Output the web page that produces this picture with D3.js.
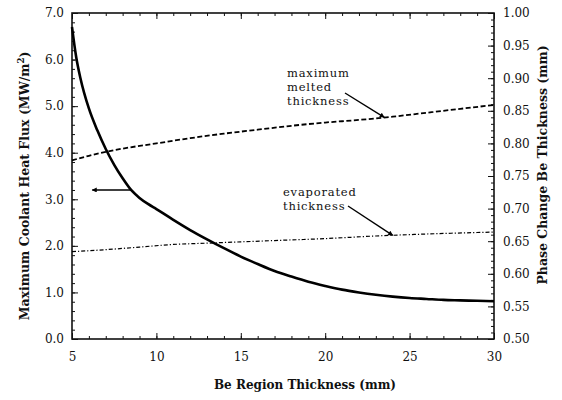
<!DOCTYPE html>
<html>
<head>
<meta charset="utf-8">
<script src="https://cdn.jsdelivr.net/npm/d3@7"></script>
<style>
  body { margin: 0; background: #fff; }
  svg text { font-family: "DejaVu Serif", serif; fill: #111; }
</style>
</head>
<body>
<div id="plot"></div>
<script>
// values
const fluxX = [5, 5.25, 5.5, 6, 6.5, 7, 7.5, 8, 8.5, 9, 9.5, 10, 11, 12, 13, 14, 15, 16, 17, 18, 19, 20, 21, 22, 23, 24, 25, 26, 27, 28, 29, 30];
const fluxY = [6.70, 6.05, 5.60, 4.95, 4.48, 4.08, 3.74, 3.45, 3.20, 3.03, 2.90, 2.79, 2.56, 2.34, 2.14, 1.95, 1.77, 1.61, 1.46, 1.34, 1.23, 1.14, 1.06, 1.00, 0.95, 0.91, 0.88, 0.86, 0.84, 0.83, 0.82, 0.81];

const meltX = [5, 6, 7, 8, 10, 12, 14, 16, 18, 20, 22, 24, 26, 28, 30];
const meltY = [0.774, 0.781, 0.787, 0.792, 0.800, 0.808, 0.815, 0.821, 0.827, 0.832, 0.836, 0.841, 0.847, 0.853, 0.859];

const evapX = [5, 7, 9, 11, 13, 15, 17, 20, 23, 26, 30];
const evapY = [0.634, 0.637, 0.641, 0.645, 0.647, 0.649, 0.651, 0.654, 0.658, 0.661, 0.664];

const xTicks = [5, 10, 15, 20, 25, 30];
const leftTicks = [0, 1, 2, 3, 4, 5, 6, 7];
const rightTicks = [0.50, 0.55, 0.60, 0.65, 0.70, 0.75, 0.80, 0.85, 0.90, 0.95, 1.00];

const width = 562, height = 400;
const margin = {top: 13, right: 68, bottom: 61, left: 72};
const serif = "'DejaVu Serif', serif";

const svg = d3.select("#plot").append("svg")
  .attr("width", width)
  .attr("height", height);

const x = d3.scaleLinear([5, 30], [margin.left, width - margin.right]);
const yL = d3.scaleLinear([0, 7], [height - margin.bottom, margin.top]);
const yR = d3.scaleLinear([0.5, 1.0], [height - margin.bottom, margin.top]);

// minor ticks first, no labels
const noLabel = g => g.selectAll("text").remove();
const styleAxis = g => {
  g.select(".domain").remove();
  g.selectAll("line").attr("stroke", "#111").attr("stroke-width", 1);
};

svg.append("g").attr("transform", `translate(0,${height - margin.bottom})`)
  .call(d3.axisBottom(x).tickValues(d3.range(5, 31, 1)).tickSize(-3)).call(noLabel).call(styleAxis);
svg.append("g").attr("transform", `translate(0,${margin.top})`)
  .call(d3.axisTop(x).tickValues(d3.range(5, 31, 1)).tickSize(-3)).call(noLabel).call(styleAxis);
svg.append("g").attr("transform", `translate(0,${margin.top})`)
  .call(d3.axisTop(x).tickValues(xTicks).tickSize(-6)).call(noLabel).call(styleAxis);
svg.append("g").attr("transform", `translate(${margin.left},0)`)
  .call(d3.axisLeft(yL).tickValues(d3.range(0, 7.01, 0.2)).tickSize(-3)).call(noLabel).call(styleAxis);
svg.append("g").attr("transform", `translate(${width - margin.right},0)`)
  .call(d3.axisRight(yR).tickValues(d3.range(0.5, 1.001, 0.01)).tickSize(-3)).call(noLabel).call(styleAxis);

// major ticks with labels
const xAxis = svg.append("g").attr("transform", `translate(0,${height - margin.bottom})`)
  .call(d3.axisBottom(x).tickValues(xTicks).tickSize(-6).tickPadding(13).tickFormat(d3.format("d")))
  .call(styleAxis);
const leftAxis = svg.append("g").attr("transform", `translate(${margin.left},0)`)
  .call(d3.axisLeft(yL).tickValues(leftTicks).tickSize(-6).tickPadding(8).tickFormat(d3.format(".1f")))
  .call(styleAxis);
const rightAxis = svg.append("g").attr("transform", `translate(${width - margin.right},0)`)
  .call(d3.axisRight(yR).tickValues(rightTicks).tickSize(-6).tickPadding(9).tickFormat(d3.format(".2f")))
  .call(styleAxis);
[xAxis, leftAxis, rightAxis].forEach(g => {
  g.attr("font-family", serif);
  g.selectAll("text").style("font-family", serif).style("font-size", "12px").attr("fill", "#111");
});

// frame
svg.append("rect")
  .attr("x", margin.left).attr("y", margin.top)
  .attr("width", width - margin.left - margin.right)
  .attr("height", height - margin.top - margin.bottom)
  .attr("fill", "none").attr("stroke", "#111").attr("stroke-width", 1.6);

// lines
const fluxLine = d3.line().x(d => x(d[0])).y(d => yL(d[1])).curve(d3.curveMonotoneX);
const rightLine = d3.line().x(d => x(d[0])).y(d => yR(d[1])).curve(d3.curveMonotoneX);

svg.append("path")
  .attr("d", fluxLine(d3.zip(fluxX, fluxY)))
  .attr("fill", "none").attr("stroke", "#000").attr("stroke-width", 2.6);

svg.append("path")
  .attr("d", rightLine(d3.zip(meltX, meltY)))
  .attr("fill", "none").attr("stroke", "#000").attr("stroke-width", 1.8)
  .attr("stroke-dasharray", "5,2.5");

svg.append("path")
  .attr("d", rightLine(d3.zip(evapX, evapY)))
  .attr("fill", "none").attr("stroke", "#000").attr("stroke-width", 1.2)
  .attr("stroke-dasharray", "4,2,1.2,2");

// arrow heads
svg.append("defs").append("marker")
  .attr("id", "head").attr("viewBox", "0 0 10 10")
  .attr("refX", 9).attr("refY", 5)
  .attr("markerWidth", 8).attr("markerHeight", 5)
  .attr("markerUnits", "userSpaceOnUse")
  .attr("orient", "auto")
  .append("path").attr("d", "M0,0 L10,5 L0,10 Z").attr("fill", "#000");

const arrow = (x1, y1, x2, y2) => svg.append("line")
  .attr("x1", x1).attr("y1", y1).attr("x2", x2).attr("y2", y2)
  .attr("stroke", "#000").attr("stroke-width", 1.4)
  .attr("marker-end", "url(#head)");

arrow(x(8.5), yL(3.2), x(6.2), yL(3.2));
arrow(345, 93, x(23.5), yR(0.840));
arrow(348, 206, x(24.0), yR(0.659));

// annotation text
const note = (lines, x0, y0) => lines.forEach((t, i) => svg.append("text")
  .attr("x", x0).attr("y", y0 + i * 14)
  .style("font-size", "11.5px").style("letter-spacing", "0.8px")
  .text(t));
note(["maximum", "melted", "thickness"], 287, 77);
note(["evaporated", "thickness"], 283, 196);

// axis titles
svg.append("text")
  .attr("x", 305).attr("y", 389)
  .attr("text-anchor", "middle")
  .style("font-size", "12px").style("font-weight", "bold")
  .text("Be Region Thickness (mm)");

const leftTitle = svg.append("text")
  .attr("transform", `translate(29,186) rotate(-90)`)
  .attr("text-anchor", "middle")
  .style("font-size", "12.5px").style("font-weight", "bold");
leftTitle.append("tspan").text("Maximum Coolant Heat Flux (MW/m");
leftTitle.append("tspan").attr("dy", -5).style("font-size", "8.5px").text("2");
leftTitle.append("tspan").attr("dy", 5).text(")");

svg.append("text")
  .attr("transform", `translate(547,165) rotate(-90)`)
  .attr("text-anchor", "middle")
  .style("font-size", "12.5px").style("font-weight", "bold")
  .text("Phase Change Be Thickness (mm)");
</script>
</body>
</html>
